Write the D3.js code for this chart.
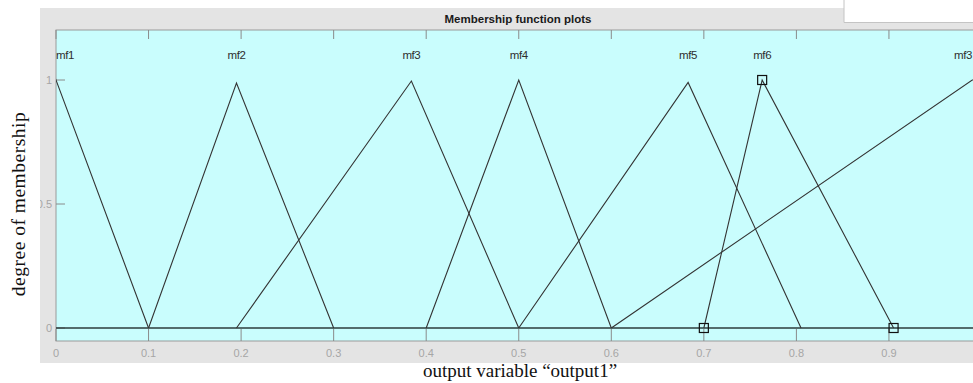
<!DOCTYPE html>
<html>
<head>
<meta charset="utf-8">
<script src="https://cdn.jsdelivr.net/npm/d3@7"></script>
<style>
  html, body { margin: 0; padding: 0; background: #ffffff; }
  svg { display: block; }
</style>
</head>
<body>
<svg id="chart" width="973" height="383"></svg>
<script>
// Membership functions of output variable "output1"
const mfNames  = ["mf1", "mf2", "mf3", "mf4", "mf5", "mf6", "mf3"];
// breakpoints [a, b, c, d] of each (trapezoid, b..c = plateau), peak heights
const mfParams = [
  [-0.1, 0.0, 0.0, 0.1],
  [0.1, 0.195, 0.195, 0.3],
  [0.195, 0.384, 0.384, 0.5],
  [0.4, 0.5, 0.5, 0.6],
  [0.5, 0.683, 0.683, 0.805],
  [0.7, 0.763, 0.763, 0.905],
  [0.6, 0.99, 1.0, 1.4]
];
const mfPeaks = [1.0, 0.988, 0.996, 1.0, 0.99, 1.0, 1.0];
const selectedMf = 5;
const xTicks = [0, 0.1, 0.2, 0.3, 0.4, 0.5, 0.6, 0.7, 0.8, 0.9];
const yTicks = [0, 0.5, 1];
const yTickLabels = ["0", "0.5", "1"];

const svg = d3.select("#chart");

// panel geometry
const panel = { x0: 40, y0: 8, x1: 973, y1: 363 };
const plot = { x0: 56, y0: 30, x1: 990, y1: 341 };

const x = d3.scaleLinear().domain([0, 1]).range([56, 981.5]);
const y = d3.scaleLinear().domain([0, 1]).range([328, 80]);

// grey figure panel
svg.append("rect")
  .attr("x", panel.x0).attr("y", panel.y0)
  .attr("width", panel.x1 - panel.x0).attr("height", panel.y1 - panel.y0)
  .attr("fill", "#e4e4e4");

// white notch at the top right of the title bar
svg.append("rect")
  .attr("x", 844).attr("y", 0)
  .attr("width", 973 - 844).attr("height", 22)
  .attr("fill", "#ffffff");
svg.append("path")
  .attr("d", "M844,0 V22.5 H973")
  .attr("fill", "none").attr("stroke", "#c4c4c4").attr("stroke-width", 1);

// title
svg.append("text")
  .attr("x", 518).attr("y", 22.5)
  .attr("text-anchor", "middle")
  .attr("font-family", "Liberation Sans, Arial, sans-serif")
  .attr("font-weight", "bold")
  .attr("font-size", 11.5)
  .attr("fill", "#1a1a1a")
  .text("Membership function plots");

svg.append("defs").append("clipPath").attr("id", "panelClip")
  .append("rect")
  .attr("x", panel.x0).attr("y", panel.y0)
  .attr("width", panel.x1 - panel.x0).attr("height", panel.y1 - panel.y0);

svg.append("defs").append("clipPath").attr("id", "plotClip")
  .append("rect")
  .attr("x", plot.x0).attr("y", plot.y0)
  .attr("width", plot.x1 - plot.x0).attr("height", plot.y1 - plot.y0);

// axes background
svg.append("rect")
  .attr("x", plot.x0).attr("y", plot.y0)
  .attr("width", plot.x1 - plot.x0).attr("height", plot.y1 - plot.y0)
  .attr("fill", "#c9fdfd")
  .attr("stroke", "#9a9a9a").attr("stroke-width", 1);

const tickCol = "#8a8a8a";
const labelCol = "#a6a6a6";
const g = svg.append("g").attr("clip-path", "url(#panelClip)");

// x ticks, top and bottom
const xt = g.append("g");
xTicks.forEach(v => {
  xt.append("line")
    .attr("x1", x(v)).attr("x2", x(v))
    .attr("y1", plot.y0).attr("y2", plot.y0 + 9)
    .attr("stroke", tickCol);
  xt.append("line")
    .attr("x1", x(v)).attr("x2", x(v))
    .attr("y1", plot.y1).attr("y2", plot.y1 - 12)
    .attr("stroke", tickCol);
  xt.append("text")
    .attr("x", x(v)).attr("y", 357)
    .attr("text-anchor", "middle")
    .attr("font-family", "Liberation Sans Narrow, Arial Narrow, Liberation Sans, sans-serif")
    .attr("font-size", 11)
    .attr("fill", labelCol)
    .text(d3.format("")(v));
});

// y ticks
yTicks.forEach((v, i) => {
  g.append("line")
    .attr("x1", plot.x0).attr("x2", plot.x0 + 9)
    .attr("y1", y(v)).attr("y2", y(v))
    .attr("stroke", tickCol);
  g.append("text")
    .attr("x", 52).attr("y", y(v) + 4)
    .attr("text-anchor", "end")
    .attr("font-family", "Liberation Sans Narrow, Arial Narrow, Liberation Sans, sans-serif")
    .attr("font-size", 11)
    .attr("fill", labelCol)
    .text(yTickLabels[i]);
});

// membership curves
const curves = svg.append("g").attr("clip-path", "url(#plotClip)");

// zero line
curves.append("line")
  .attr("x1", plot.x0).attr("x2", plot.x1)
  .attr("y1", y(0)).attr("y2", y(0))
  .attr("stroke", "#2b3b3b").attr("stroke-width", 1.6);

const line = d3.line().x(d => x(d[0])).y(d => y(d[1]));
mfParams.forEach((p, i) => {
  const h = mfPeaks[i];
  const pts = [[p[0], 0], [p[1], h], [p[2], h], [p[3], 0]];
  curves.append("path")
    .attr("d", line(pts))
    .attr("fill", "none")
    .attr("stroke", "#333333")
    .attr("stroke-width", 1.1);
});

// label each function above its peak
mfParams.forEach((p, i) => {
  const cx = x((p[1] + p[2]) / 2);
  let anchor = "middle", tx = cx;
  if (i === 0) { anchor = "start"; tx = x(0); }
  if (i === mfParams.length - 1) { anchor = "end"; tx = 972; }
  curves.append("text")
    .attr("x", tx).attr("y", 59)
    .attr("text-anchor", anchor)
    .attr("font-family", "Liberation Sans Narrow, Arial Narrow, Liberation Sans, sans-serif")
    .attr("font-size", 11.5)
    .attr("letter-spacing", -0.4)
    .attr("fill", "#2e2e2e")
    .text(mfNames[i]);
});

// markers on the selected function
const sp = mfParams[selectedMf];
const sh = mfPeaks[selectedMf];
[[sp[0], 0], [sp[1], sh], [sp[3], 0]].forEach(d => {
  curves.append("rect")
    .attr("x", x(d[0]) - 4.5).attr("y", y(d[1]) - 4.5)
    .attr("width", 9).attr("height", 9)
    .attr("fill", "none")
    .attr("stroke", "#111111").attr("stroke-width", 1.2);
});

// axis titles
svg.append("text")
  .attr("transform", "translate(25,204) rotate(-90)")
  .attr("text-anchor", "middle")
  .attr("font-family", "Liberation Serif, Times New Roman, serif")
  .attr("font-size", 19.5)
  .attr("letter-spacing", 0.5)
  .attr("fill", "#111111")
  .text("degree of membership");

svg.append("text")
  .attr("x", 520).attr("y", 377)
  .attr("text-anchor", "middle")
  .attr("font-family", "Liberation Serif, Times New Roman, serif")
  .attr("font-size", 19)
  .attr("fill", "#111111")
  .text("output variable \u201coutput1\u201d");
</script>
</body>
</html>
